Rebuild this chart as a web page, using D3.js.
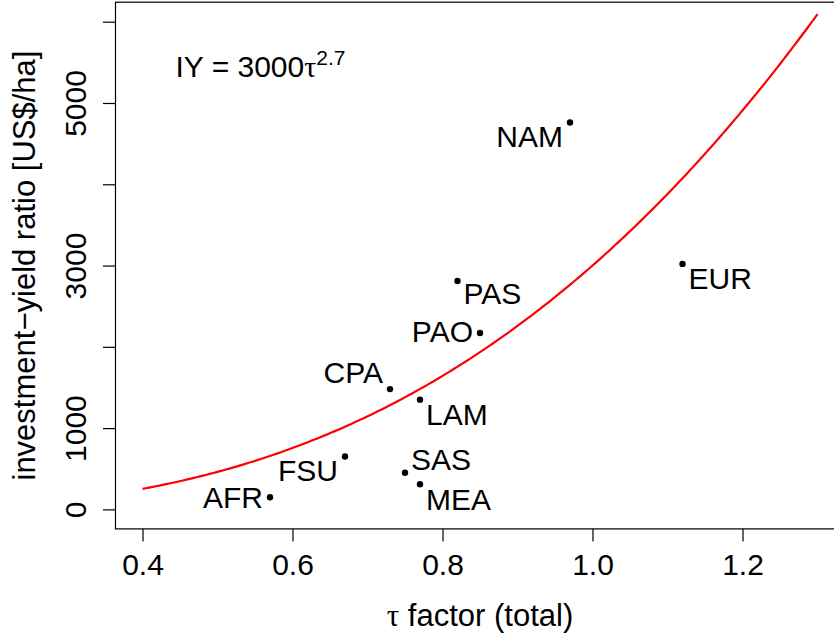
<!DOCTYPE html>
<html>
<head>
<meta charset="utf-8">
<script src="https://cdn.jsdelivr.net/npm/d3@7"></script>
<style>
  html, body { margin: 0; padding: 0; background: #fff; }
  svg { display: block; }
  text { font-family: "Liberation Sans", Arial, Helvetica, sans-serif; fill: #000; }
  .greek { font-family: "Liberation Serif", "DejaVu Serif", serif; }
</style>
</head>
<body>
<svg id="chart" width="834" height="636"></svg>
<script>
// Regions and their tau factor / investment-yield ratio
const regions = ["AFR", "FSU", "CPA", "LAM", "SAS", "MEA", "PAS", "PAO", "NAM", "EUR"];
const tauValues = [0.57, 0.67, 0.73, 0.77, 0.75, 0.77, 0.82, 0.85, 0.97, 1.12];
const iyValues = [150, 650, 1480, 1350, 450, 310, 2810, 2170, 4760, 3020];

// Fitted relation IY = 3000 * tau^2.7
const fitCoefficient = 3000;
const fitExponent = 2.7;
const fitTauRange = [0.4, 1.3];

// Axis ticks
const xTicks = [0.4, 0.6, 0.8, 1.0, 1.2];
const yTicks = [0, 1000, 2000, 3000, 4000, 5000, 6000];
const yTickLabels = ["0", "1000", "", "3000", "", "5000", ""];

const svg = d3.select("#chart");
const FONT = 30;

// Plot region (axis limits padded by 4%, as in base graphics)
const x = d3.scaleLinear().domain([0.364, 1.336]).range([115.5, 844.5]);
const y = d3.scaleLinear().domain([-240, 6240]).range([528.9, 2.2]);

// Fitted curve
const curveTau = d3.range(0, 201).map(i => fitTauRange[0] + (fitTauRange[1] - fitTauRange[0]) * i / 200);
const line = d3.line()
  .x(t => x(t))
  .y(t => y(fitCoefficient * Math.pow(t, fitExponent)));
svg.append("path")
  .datum(curveTau)
  .attr("d", line)
  .attr("fill", "none")
  .attr("stroke", "#ff0000")
  .attr("stroke-width", 2.2);

// Frame
svg.append("rect")
  .attr("x", x.range()[0]).attr("y", y.range()[1])
  .attr("width", x.range()[1] - x.range()[0])
  .attr("height", y.range()[0] - y.range()[1])
  .attr("fill", "none").attr("stroke", "#000").attr("stroke-width", 1.2);

// Bottom axis
const xAxis = d3.axisBottom(x).tickValues(xTicks).tickSize(12.5).tickPadding(8)
  .tickFormat(d3.format(".1f"));
const gx = svg.append("g").attr("transform", `translate(0,${y.range()[0]})`).call(xAxis);
gx.select(".domain").remove();
gx.selectAll(".tick line").attr("stroke", "#000").attr("stroke-width", 1.2);
gx.selectAll(".tick text")
  .attr("font-size", FONT)
  .attr("font-family", "Liberation Sans, Arial, sans-serif")
  .attr("fill", "#000")
  .attr("y", 46).attr("dy", 0);

// Left axis with rotated labels
const yAxis = d3.axisLeft(y).tickValues(yTicks).tickSize(12.5)
  .tickFormat((d, i) => yTickLabels[i]);
const gy = svg.append("g").attr("transform", `translate(${x.range()[0]},0)`).call(yAxis);
gy.select(".domain").remove();
gy.selectAll(".tick line").attr("stroke", "#000").attr("stroke-width", 1.2);
gy.selectAll(".tick text")
  .attr("font-size", FONT)
  .attr("font-family", "Liberation Sans, Arial, sans-serif")
  .attr("fill", "#000")
  .attr("x", null).attr("dy", null)
  .attr("text-anchor", "middle")
  .attr("transform", "translate(-29.5,0) rotate(-90)");

// Axis titles
const xt = svg.append("text")
  .attr("x", (x.range()[0] + x.range()[1]) / 2)
  .attr("y", 625.5)
  .attr("text-anchor", "middle")
  .attr("font-size", FONT + 1);
xt.append("tspan").attr("class", "greek").text("τ");
xt.append("tspan").text(" factor (total)");

svg.append("text")
  .attr("transform", `translate(35,${(y.range()[0] + y.range()[1]) / 2}) rotate(-90)`)
  .attr("text-anchor", "middle")
  .attr("font-size", FONT + 1)
  .text("investment\u2212yield ratio [US$/ha]");

// Equation annotation
const eq = svg.append("text")
  .attr("x", 175.5).attr("y", 76.7)
  .attr("font-size", FONT);
eq.append("tspan").text(`IY = ${fitCoefficient}`);
eq.append("tspan").attr("class", "greek").text("τ");
eq.append("tspan").attr("font-size", 21).attr("dy", -11.7).text(String(fitExponent));

// Points
const pts = regions.map((r, i) => ({ name: r, tau: tauValues[i], iy: iyValues[i] }));
svg.selectAll("circle.pt")
  .data(pts).enter().append("circle")
  .attr("class", "pt")
  .attr("cx", d => x(d.tau))
  .attr("cy", d => y(d.iy))
  .attr("r", 3.2)
  .attr("fill", "#000");

// Label placement: side of the point and vertical shift of the label centre
const labelPlacement = {
  AFR: ["end", 0], FSU: ["end", 13.6], CPA: ["end", -17.3], LAM: ["start", 14.7],
  SAS: ["start", -14], MEA: ["start", 14.7], PAS: ["start", 11.8], PAO: ["end", -1.9],
  NAM: ["end", 13.5], EUR: ["start", 14.3]
};
const capHalf = FONT * 0.716 / 2;
svg.selectAll("text.lbl")
  .data(pts).enter().append("text")
  .attr("class", "lbl")
  .attr("font-size", FONT)
  .attr("text-anchor", d => labelPlacement[d.name][0])
  .attr("x", d => x(d.tau) + (labelPlacement[d.name][0] === "start" ? 6 : -7))
  .attr("y", d => y(d.iy) + labelPlacement[d.name][1] + capHalf)
  .text(d => d.name);
</script>
</body>
</html>
